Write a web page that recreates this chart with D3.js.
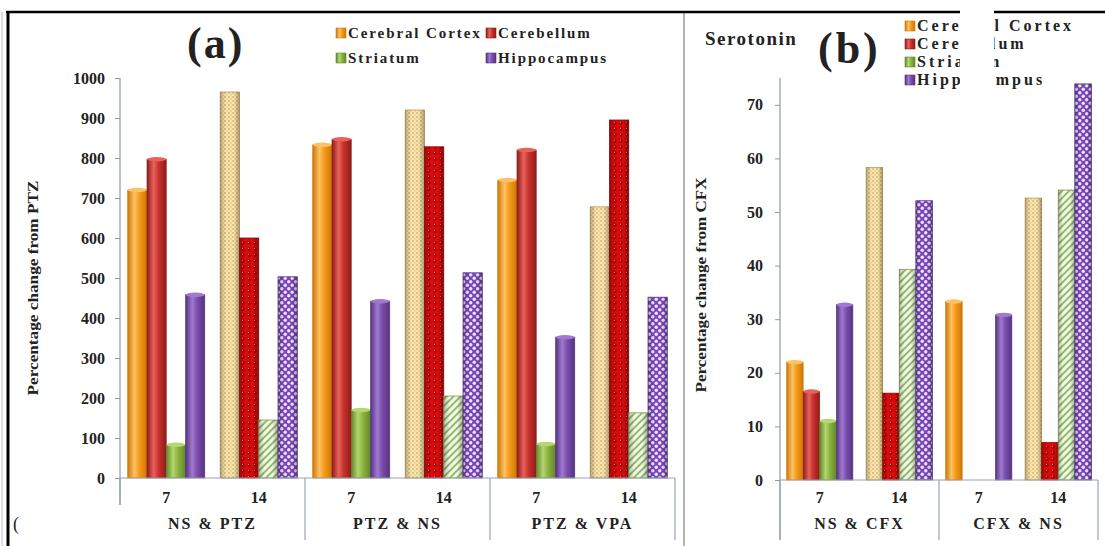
<!DOCTYPE html>
<html>
<head>
<meta charset="utf-8">
<script src="https://cdn.jsdelivr.net/npm/d3@7"></script>
<style>
body { margin: 0; background: #fff; }
svg text { font-family: "Liberation Serif", "Times New Roman", serif; font-weight: bold; fill: #222; }
</style>
</head>
<body>
<svg></svg>
<script>
// ---- data ----
var seriesNames = ["Cerebral Cortex", "Cerebellum", "Striatum", "Hippocampus"];
var days = ["7", "14"];

var groupsA = ["NS & PTZ", "PTZ & NS", "PTZ & VPA"];
// values in order: group 1 day 7, group 1 day 14, group 2 day 7, ...
var cortexA      = [720, 965, 833, 920, 745, 678];
var cerebellumA  = [797, 600, 847, 828, 820, 895];
var striatumA    = [83, 145, 170, 205, 85, 163];
var hippocampusA = [458, 503, 442, 513, 352, 452];
var ticksA = [0, 100, 200, 300, 400, 500, 600, 700, 800, 900, 1000];

var groupsB = ["NS & CFX", "CFX & NS"];
var cortexB      = [22, 58.3, 33.3, 52.6];
var cerebellumB  = [16.5, 16.2, 0, 7];
var striatumB    = [11, 39.3, 0, 54.1];
var hippocampusB = [32.7, 52.1, 30.8, 73.9];
var ticksB = [0, 10, 20, 30, 40, 50, 60, 70];

// ---- setup ----
var svg = d3.select("svg").attr("width", 1105).attr("height", 546),
    defs = svg.append("defs");

var colors = [
    {base: "#f59b1a", light: "#fcc266", dark: "#cf7705", edge: "#c99a4e"},
    {base: "#c8322d", light: "#e8625c", dark: "#8e1c1a", edge: "#8e1010"},
    {base: "#8db43e", light: "#b5d670", dark: "#62882a", edge: "#7aa24a"},
    {base: "#7b4fad", light: "#a07ad0", dark: "#55327f", edge: "#5a3a8a"}
];

// cylinder-like gradients for the solid bars
colors.forEach(function(c, i) {
    var g = defs.append("linearGradient").attr("id", "solid" + i);
    g.append("stop").attr("offset", "0%").attr("stop-color", c.dark);
    g.append("stop").attr("offset", "35%").attr("stop-color", c.light);
    g.append("stop").attr("offset", "60%").attr("stop-color", c.base);
    g.append("stop").attr("offset", "100%").attr("stop-color", c.dark);
});

var shade = defs.append("linearGradient").attr("id", "shade");
shade.append("stop").attr("offset", "0%").attr("stop-color", "#000").attr("stop-opacity", 0.25);
shade.append("stop").attr("offset", "30%").attr("stop-color", "#000").attr("stop-opacity", 0);
shade.append("stop").attr("offset", "70%").attr("stop-color", "#000").attr("stop-opacity", 0);
shade.append("stop").attr("offset", "100%").attr("stop-color", "#000").attr("stop-opacity", 0.3);

// patterns for the day 14 bars
var p0 = defs.append("pattern").attr("id", "pat0").attr("patternUnits", "userSpaceOnUse")
    .attr("width", 4).attr("height", 4);
p0.append("rect").attr("width", 4).attr("height", 4).attr("fill", "#f8e6b2");
p0.append("circle").attr("cx", 1).attr("cy", 1).attr("r", 0.9).attr("fill", "#d9b062");
p0.append("circle").attr("cx", 3).attr("cy", 3).attr("r", 0.9).attr("fill", "#e8cc8e");

var p1 = defs.append("pattern").attr("id", "pat1").attr("patternUnits", "userSpaceOnUse")
    .attr("width", 6).attr("height", 6);
p1.append("rect").attr("width", 6).attr("height", 6).attr("fill", "#d80c0c");
p1.append("circle").attr("cx", 3).attr("cy", 3).attr("r", 1.7).attr("fill", "#a00000");
p1.append("circle").attr("cx", 2.4).attr("cy", 2.4).attr("r", 0.6).attr("fill", "#ff7070");

var p2 = defs.append("pattern").attr("id", "pat2").attr("patternUnits", "userSpaceOnUse")
    .attr("width", 5).attr("height", 5).attr("patternTransform", "rotate(45)");
p2.append("rect").attr("width", 5).attr("height", 5).attr("fill", "#f3f9ea");
p2.append("line").attr("x1", 1).attr("x2", 1).attr("y1", 0).attr("y2", 5)
    .attr("stroke", "#8ab55a").attr("stroke-width", 1.8);

var p3 = defs.append("pattern").attr("id", "pat3").attr("patternUnits", "userSpaceOnUse")
    .attr("width", 7).attr("height", 7);
p3.append("rect").attr("width", 7).attr("height", 7).attr("fill", "#7a46b8");
p3.append("circle").attr("cx", 1.75).attr("cy", 1.75).attr("r", 1.7).attr("fill", "#efe3ff");
p3.append("circle").attr("cx", 5.25).attr("cy", 5.25).attr("r", 1.7).attr("fill", "#efe3ff");

function drawPanel(cfg) {
    var g = svg.append("g");
    var y = d3.scaleLinear().domain(cfg.domain).range([cfg.base, cfg.top]);
    var x0 = d3.scaleBand().domain(cfg.groups).range([cfg.left, cfg.right]);
    var x1 = d3.scaleBand().domain(days).range([0, x0.bandwidth()]);
    var x2 = d3.scaleBand().domain(seriesNames).range([0, x1.bandwidth()])
        .paddingInner(0).paddingOuter(0.4);

    var rows = [];
    cfg.groups.forEach(function(grp, gi) {
        days.forEach(function(day, di) {
            cfg.series.forEach(function(arr, si) {
                rows.push({group: grp, day: day, si: si, value: arr[gi * 2 + di]});
            });
        });
    });

    // y axis
    var yAxis = g.append("g").attr("transform", "translate(" + cfg.left + ",0)")
        .call(d3.axisLeft(y).tickValues(cfg.ticks).tickFormat(d3.format("d"))
            .tickSize(5).tickPadding(cfg.pad));
    yAxis.attr("font-family", null).attr("font-size", null);
    yAxis.select(".domain").remove();
    yAxis.selectAll(".tick line").attr("stroke", "#8c98aa");
    yAxis.selectAll(".tick text").style("font-size", "16px").attr("fill", "#333");
    g.append("line").attr("x1", cfg.left).attr("x2", cfg.left)
        .attr("y1", cfg.axisTop).attr("y2", cfg.axisBottom)
        .attr("stroke", "#8c98aa").attr("stroke-width", 1.2);

    // bars
    var bars = g.selectAll(".bar").data(rows.filter(function(d) { return d.value > 0; }))
        .join("g").attr("class", "bar");
    bars.each(function(d) {
        var sel = d3.select(this),
            bx = x0(d.group) + x1(d.day) + x2(seriesNames[d.si]),
            bw = x2.bandwidth(),
            by = y(d.value),
            c = colors[d.si];
        if (d.day == "7") {
            sel.append("rect").attr("x", bx).attr("y", by).attr("width", bw)
                .attr("height", cfg.base - by).attr("fill", "url(#solid" + d.si + ")")
                .attr("stroke", c.dark).attr("stroke-width", 0.6);
            sel.append("ellipse").attr("cx", bx + bw / 2).attr("cy", by)
                .attr("rx", bw / 2).attr("ry", 2.2).attr("fill", c.light);
        } else {
            sel.append("rect").attr("x", bx).attr("y", by).attr("width", bw)
                .attr("height", cfg.base - by).attr("fill", "url(#pat" + d.si + ")")
                .attr("stroke", c.edge).attr("stroke-width", 0.8);
            sel.append("rect").attr("x", bx).attr("y", by).attr("width", bw)
                .attr("height", cfg.base - by).attr("fill", "url(#shade)");
        }
    });

    // category axis
    g.append("line").attr("x1", cfg.left).attr("x2", cfg.right)
        .attr("y1", cfg.base).attr("y2", cfg.base).attr("stroke", "#9aa4b0").attr("stroke-width", 1.2);
    var edges = cfg.groups.map(function(grp) { return x0(grp); }).concat([cfg.right]);
    g.selectAll(".sep").data(edges).join("line")
        .attr("x1", function(d) { return d; }).attr("x2", function(d) { return d; })
        .attr("y1", cfg.base).attr("y2", function(d, i) { return i == 0 ? cfg.firstSepEnd : 540; })
        .attr("stroke", "#9aa4b0").attr("stroke-width", 1.2);

    cfg.groups.forEach(function(grp) {
        days.forEach(function(day) {
            g.append("text").attr("x", x0(grp) + x1(day) + x1.bandwidth() / 2).attr("y", 503)
                .attr("text-anchor", "middle").style("font-size", "16px").text(day);
        });
        g.append("text").attr("x", x0(grp) + x0.bandwidth() / 2).attr("y", 529)
            .attr("text-anchor", "middle").style("font-size", "16px")
            .style("letter-spacing", "2px").text(grp);
    });

    // y title
    g.append("text").attr("transform", "translate(" + cfg.titleX + "," + cfg.titleY + ") rotate(-90)")
        .attr("text-anchor", "middle").style("font-size", "14px")
        .attr("textLength", 215).attr("lengthAdjust", "spacingAndGlyphs")
        .text(cfg.yTitle);
}

// frame lines
svg.append("line").attr("x1", 8).attr("x2", 8).attr("y1", 12).attr("y2", 546)
    .attr("stroke", "#000").attr("stroke-width", 3);
svg.append("line").attr("x1", 2).attr("x2", 2).attr("y1", 12).attr("y2", 546)
    .attr("stroke", "#bbb").attr("stroke-width", 1);
svg.append("line").attr("x1", 684).attr("x2", 684).attr("y1", 12).attr("y2", 546)
    .attr("stroke", "#999").attr("stroke-width", 1.5);
svg.append("line").attr("x1", 6).attr("x2", 1105).attr("y1", 12).attr("y2", 12)
    .attr("stroke", "#000").attr("stroke-width", 2.5);

drawPanel({
    groups: groupsA, series: [cortexA, cerebellumA, striatumA, hippocampusA],
    domain: [0, 1000], ticks: ticksA, base: 478, top: 78,
    left: 120, right: 675, axisTop: 78, axisBottom: 505, firstSepEnd: 505, pad: 10,
    yTitle: "Percentage change from PTZ", titleX: 38, titleY: 288
});

drawPanel({
    groups: groupsB, series: [cortexB, cerebellumB, striatumB, hippocampusB],
    domain: [0, 75], ticks: ticksB, base: 480, top: 78,
    left: 780, right: 1098, axisTop: 78, axisBottom: 540, firstSepEnd: 540, pad: 12,
    yTitle: "Percentage change from CFX", titleX: 706, titleY: 285
});

// cover bottom-left corner like the reference
svg.append("rect").attr("x", 10).attr("y", 506).attr("width", 112).attr("height", 40).attr("fill", "#fff");
svg.append("text").attr("x", 13).attr("y", 530).style("font-size", "18px").attr("fill", "#666")
    .style("font-weight", "normal").text("(");

// titles
svg.append("text").attr("x", 187).attr("y", 58).style("font-size", "44px")
    .style("letter-spacing", "2px").text("(a)");
svg.append("text").attr("x", 705).attr("y", 45).style("font-size", "19px")
    .style("letter-spacing", "1.5px").text("Serotonin");
svg.append("text").attr("x", 818).attr("y", 63).style("font-size", "44px")
    .style("letter-spacing", "3px").text("(b)");

// legend (a)
var legA = svg.append("g");
var legPosA = [[336, 28], [486, 28], [336, 53], [486, 53]];
seriesNames.forEach(function(name, i) {
    legA.append("rect").attr("x", legPosA[i][0]).attr("y", legPosA[i][1])
        .attr("width", 10).attr("height", 10).attr("fill", "url(#solid" + i + ")")
        .attr("stroke", colors[i].dark).attr("stroke-width", 0.6);
    legA.append("text").attr("x", legPosA[i][0] + 12).attr("y", legPosA[i][1] + 10)
        .style("font-size", "15px").style("letter-spacing", "1.9px").text(name);
});

// legend (b)
var legB = svg.append("g");
seriesNames.forEach(function(name, i) {
    legB.append("rect").attr("x", 905).attr("y", 21 + i * 18)
        .attr("width", 10).attr("height", 10).attr("fill", "url(#solid" + i + ")")
        .attr("stroke", colors[i].dark).attr("stroke-width", 0.6);
    legB.append("text").attr("x", 917).attr("y", 31 + i * 18)
        .style("font-size", "16px").style("letter-spacing", "3px").text(name);
});
// white block hiding part of legend (b) and the frame line
svg.append("rect").attr("x", 960).attr("y", 0).attr("width", 34).attr("height", 90).attr("fill", "#fff");
</script>
</body>
</html>
